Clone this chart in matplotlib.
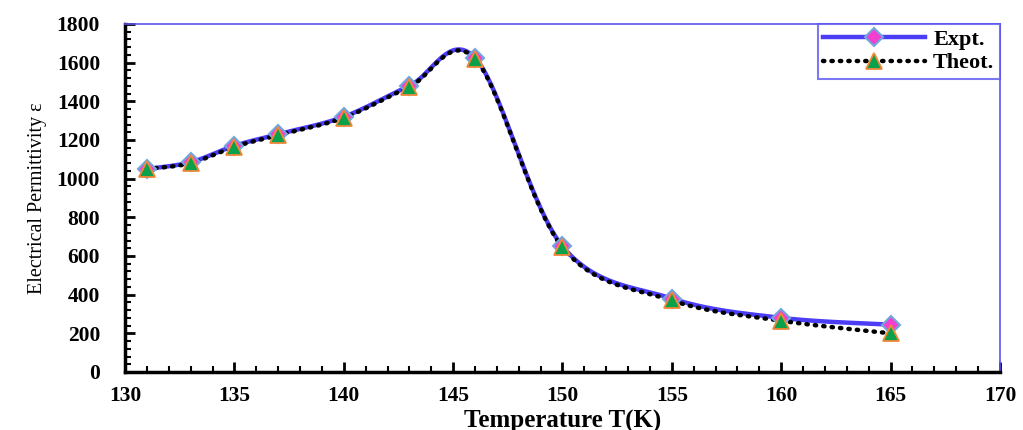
import numpy as np
import matplotlib
matplotlib.use("Agg")
import matplotlib.pyplot as plt
from matplotlib.ticker import MultipleLocator
from matplotlib.lines import Line2D

temps = [131, 133, 135, 137, 140, 143, 146, 150, 155, 160, 165]
expt = [1050, 1085, 1170, 1230, 1320, 1480, 1625, 650, 380, 280, 245]
theo = [1050, 1080, 1165, 1225, 1315, 1475, 1620, 645, 370, 265, 200]

x_ticks = [130, 135, 140, 145, 150, 155, 160, 165, 170]
y_ticks = [0, 200, 400, 600, 800, 1000, 1200, 1400, 1600, 1800]


def smooth(xs, ys, n=40):
    """Excel-like smoothed line (Catmull-Rom Bezier)."""
    P = np.column_stack([xs, ys]).astype(float)
    out = []
    m = len(P)
    for i in range(m - 1):
        p0 = P[i]
        p3 = P[i + 1]
        prev = P[i - 1] if i > 0 else P[i]
        nxt = P[i + 2] if i + 2 < m else P[i + 1]
        c1 = p0 + (p3 - prev) / 6.0
        c2 = p3 - (nxt - p0) / 6.0
        t = np.linspace(0, 1, n)[:, None]
        seg = ((1 - t) ** 3) * p0 + 3 * ((1 - t) ** 2) * t * c1 + 3 * (1 - t) * t ** 2 * c2 + t ** 3 * p3
        out.append(seg if i == 0 else seg[1:])
    seg = np.vstack(out)
    return seg[:, 0], seg[:, 1]


fig = plt.figure(figsize=(10.23, 4.30), dpi=100)
ax = fig.add_axes([0.1222, 0.1349, 0.8553, 0.8093])

ex, ey = smooth(temps, expt)
tx, ty = smooth(temps, theo)

BLUE = "#4B3DF5"
dots = (0, (0.3, 1.6))

ax.plot(ex, ey, color=BLUE, lw=3.2, solid_capstyle="round", zorder=2)
ax.plot(tx, ty, color="black", lw=3.2, linestyle=dots,
        dash_capstyle="round", zorder=3)
ax.plot(temps, expt, linestyle="none", marker="D", ms=9, mfc="#F23FD0",
        mec="#6FA8DC", mew=1.5, zorder=4)
ax.plot(temps, theo, linestyle="none", marker="^", ms=11, mfc="#0BA04A",
        mec="#F0883A", mew=1.3, zorder=5)

h1 = Line2D([], [], color=BLUE, lw=3.2, marker="D", ms=9, mfc="#F23FD0",
            mec="#6FA8DC", mew=1.5)
h2 = Line2D([], [], color="black", lw=3.2, linestyle=dots,
            dash_capstyle="round", marker="^", ms=11, mfc="#0BA04A",
            mec="#F0883A", mew=1.3)
leg = ax.legend([h1, h2], ["Expt.", "Theot."], loc="upper right",
                bbox_to_anchor=(1.0, 1.0), borderaxespad=0, frameon=True,
                fancybox=False, handlelength=4.6, handletextpad=0.35,
                borderpad=0.25, labelspacing=0.12,
                prop={"family": "Liberation Serif", "weight": "bold", "size": 16})
leg.get_frame().set_edgecolor("#5B55F0")
leg.get_frame().set_linewidth(1.5)
leg.set_zorder(10)

ax.set_xlim(130, 170)
ax.set_ylim(0, 1800)
ax.set_xticks(x_ticks)
ax.set_yticks(y_ticks)
ax.xaxis.set_minor_locator(MultipleLocator(1))
ax.yaxis.set_minor_locator(MultipleLocator(40))
ax.tick_params(axis="both", which="major", direction="in", length=7, width=2,
               labelsize=15.5)
ax.tick_params(axis="x", which="major", pad=10)
ax.tick_params(axis="y", which="major", pad=18)
ax.tick_params(axis="both", which="minor", direction="in", length=4.5, width=1.5)
ax.tick_params(top=False, right=False, which="both")

for lab in ax.get_xticklabels() + ax.get_yticklabels():
    lab.set_fontfamily("Liberation Serif")
    lab.set_fontweight("bold")

for side in ["left", "bottom"]:
    ax.spines[side].set_linewidth(2.5)
    ax.spines[side].set_color("black")
for side in ["top", "right"]:
    ax.spines[side].set_linewidth(1.2)
    ax.spines[side].set_color("#5B55F0")

ax.set_xlabel("Temperature T(K)", fontfamily="Liberation Serif",
              fontweight="bold", fontsize=18, labelpad=3)
ax.set_ylabel("Electrical Permittivity ε", fontfamily="Liberation Serif",
              fontsize=14.5, labelpad=7)

fig.savefig("out.png", dpi=100)
